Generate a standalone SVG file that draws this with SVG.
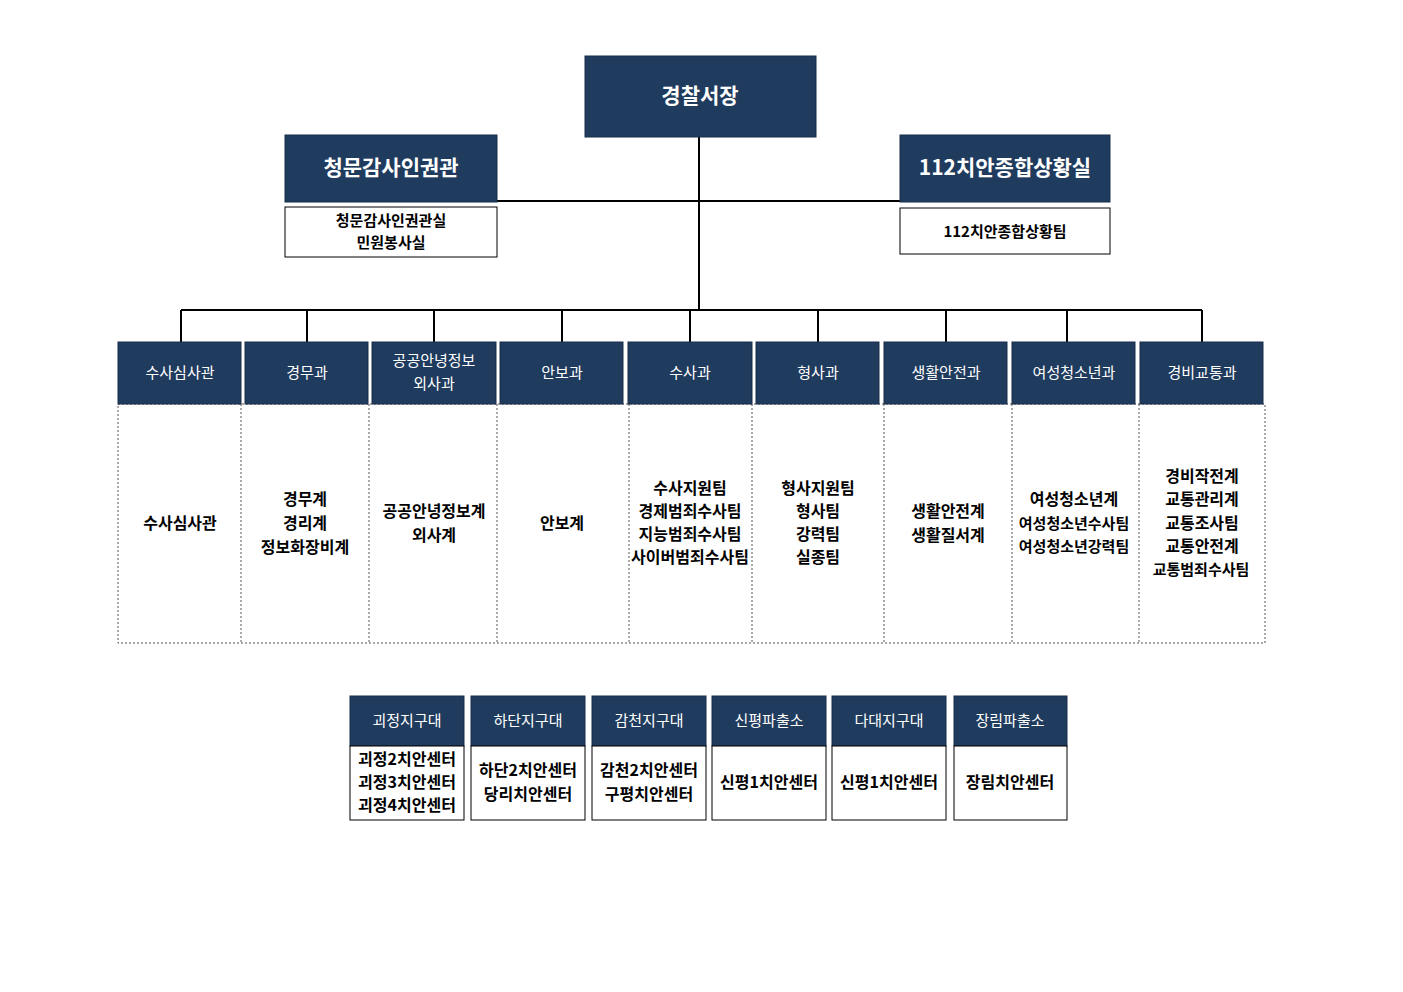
<svg xmlns="http://www.w3.org/2000/svg" width="1403" height="992" viewBox="0 0 1403 992">
<style>
.h{fill:#1f3b5e;stroke:#1a2f48;stroke-width:1}
.t{font-family:"Noto Sans CJK KR","Noto Sans",sans-serif;text-anchor:middle;fill:#000}
.w{fill:#fff}
.b{font-weight:bold}
.box{fill:#fff;stroke:#000;stroke-width:1}
.dot{fill:#fff;stroke:#555;stroke-width:1;stroke-dasharray:2,2}
.c{fill:none;stroke:#000;stroke-width:2}
</style>
<rect width="1403" height="992" fill="#fff"/>
<g id="connectors">
<path class="c" d="M699 137V310M497 201H900M181 310H1202M181 310V342M307 310V342M434 310V342M562 310V342M690 310V342M818 310V342M946 310V342M1067 310V342M1202 310V342"/>
</g>
<g id="chief"><rect class="h" x="585" y="56" width="231" height="81"/><text class="t w b" x="700" y="103" font-size="21">경찰서장</text></g>
<g id="audit"><rect class="h" x="285" y="135" width="212" height="67"/><text class="t w b" x="391" y="175" font-size="21">청문감사인권관</text>
<rect class="box" x="285" y="207" width="212" height="50"/><text class="t b" x="391" y="226" font-size="15">청문감사인권관실</text><text class="t b" x="391" y="248" font-size="15">민원봉사실</text></g>
<g id="sit"><rect class="h" x="900" y="135" width="210" height="67"/><text class="t w b" x="1005" y="175" font-size="21">112치안종합상황실</text>
<rect class="box" x="900" y="208" width="210" height="46"/><text class="t b" x="1005" y="237" font-size="15">112치안종합상황팀</text></g>
<g id="depts">
<rect class="dot" x="118" y="404" width="1147" height="239"/>
<path d="M241 404V643M369 404V643M497 404V643M629 404V643M752 404V643M884 404V643M1012 404V643M1139 404V643" stroke="#555" stroke-dasharray="2,2"/>
</g>
<g id="d1"><rect class="h" x="118" y="342" width="123" height="62"/><text class="t w" x="180" y="378" font-size="15">수사심사관</text><text class="t b" x="180" y="529" font-size="16">수사심사관</text></g>
<g id="d2"><rect class="h" x="245" y="342" width="123" height="62"/><text class="t w" x="307" y="378" font-size="15">경무과</text><text class="t b" x="305" y="505" font-size="16">경무계</text><text class="t b" x="305" y="529" font-size="16">경리계</text><text class="t b" x="305" y="553" font-size="16">정보화장비계</text></g>
<g id="d3"><rect class="h" x="372" y="342" width="124" height="62"/><text class="t w" x="434" y="366" font-size="15">공공안녕정보</text><text class="t w" x="434" y="389" font-size="15">외사과</text><text class="t b" x="434" y="517" font-size="16">공공안녕정보계</text><text class="t b" x="434" y="541" font-size="16">외사계</text></g>
<g id="d4"><rect class="h" x="500" y="342" width="123" height="62"/><text class="t w" x="562" y="378" font-size="15">안보과</text><text class="t b" x="562" y="529" font-size="16">안보계</text></g>
<g id="d5"><rect class="h" x="628" y="342" width="124" height="62"/><text class="t w" x="690" y="378" font-size="15">수사과</text><text class="t b" x="690" y="494" font-size="16">수사지원팀</text><text class="t b" x="690" y="517" font-size="16">경제범죄수사팀</text><text class="t b" x="690" y="540" font-size="16">지능범죄수사팀</text><text class="t b" x="690" y="563" font-size="16">사이버범죄수사팀</text></g>
<g id="d6"><rect class="h" x="756" y="342" width="123" height="62"/><text class="t w" x="818" y="378" font-size="15">형사과</text><text class="t b" x="818" y="494" font-size="16">형사지원팀</text><text class="t b" x="818" y="517" font-size="16">형사팀</text><text class="t b" x="818" y="540" font-size="16">강력팀</text><text class="t b" x="818" y="563" font-size="16">실종팀</text></g>
<g id="d7"><rect class="h" x="884" y="342" width="123" height="62"/><text class="t w" x="946" y="378" font-size="15">생활안전과</text><text class="t b" x="948" y="517" font-size="16">생활안전계</text><text class="t b" x="948" y="541" font-size="16">생활질서계</text></g>
<g id="d8"><rect class="h" x="1012" y="342" width="123" height="62"/><text class="t w" x="1074" y="378" font-size="15">여성청소년과</text><text class="t b" x="1074" y="505" font-size="16">여성청소년계</text><text class="t b" x="1074" y="529" font-size="15">여성청소년수사팀</text><text class="t b" x="1074" y="552" font-size="15">여성청소년강력팀</text></g>
<g id="d9"><rect class="h" x="1140" y="342" width="123" height="62"/><text class="t w" x="1202" y="378" font-size="15">경비교통과</text><text class="t b" x="1202" y="482" font-size="16">경비작전계</text><text class="t b" x="1202" y="505" font-size="16">교통관리계</text><text class="t b" x="1202" y="529" font-size="16">교통조사팀</text><text class="t b" x="1202" y="552" font-size="16">교통안전계</text><text class="t b" x="1201" y="575" font-size="15">교통범죄수사팀</text></g>
<g id="p1"><rect class="h" x="350" y="696" width="114" height="50"/><text class="t w" x="407" y="726" font-size="15">괴정지구대</text><rect class="box" x="350" y="746" width="114" height="74"/><text class="t b" x="407" y="765" font-size="16">괴정2치안센터</text><text class="t b" x="407" y="788" font-size="16">괴정3치안센터</text><text class="t b" x="407" y="811" font-size="16">괴정4치안센터</text></g>
<g id="p2"><rect class="h" x="471" y="696" width="114" height="50"/><text class="t w" x="528" y="726" font-size="15">하단지구대</text><rect class="box" x="471" y="746" width="114" height="74"/><text class="t b" x="528" y="776" font-size="16">하단2치안센터</text><text class="t b" x="528" y="800" font-size="16">당리치안센터</text></g>
<g id="p3"><rect class="h" x="592" y="696" width="114" height="50"/><text class="t w" x="649" y="726" font-size="15">감천지구대</text><rect class="box" x="592" y="746" width="114" height="74"/><text class="t b" x="649" y="776" font-size="16">감천2치안센터</text><text class="t b" x="649" y="800" font-size="16">구평치안센터</text></g>
<g id="p4"><rect class="h" x="712" y="696" width="114" height="50"/><text class="t w" x="769" y="726" font-size="15">신평파출소</text><rect class="box" x="712" y="746" width="114" height="74"/><text class="t b" x="769" y="788" font-size="16">신평1치안센터</text></g>
<g id="p5"><rect class="h" x="832" y="696" width="114" height="50"/><text class="t w" x="889" y="726" font-size="15">다대지구대</text><rect class="box" x="832" y="746" width="114" height="74"/><text class="t b" x="889" y="788" font-size="16">신평1치안센터</text></g>
<g id="p6"><rect class="h" x="954" y="696" width="113" height="50"/><text class="t w" x="1010" y="726" font-size="15">장림파출소</text><rect class="box" x="954" y="746" width="113" height="74"/><text class="t b" x="1010" y="788" font-size="16">장림치안센터</text></g>
</svg>
